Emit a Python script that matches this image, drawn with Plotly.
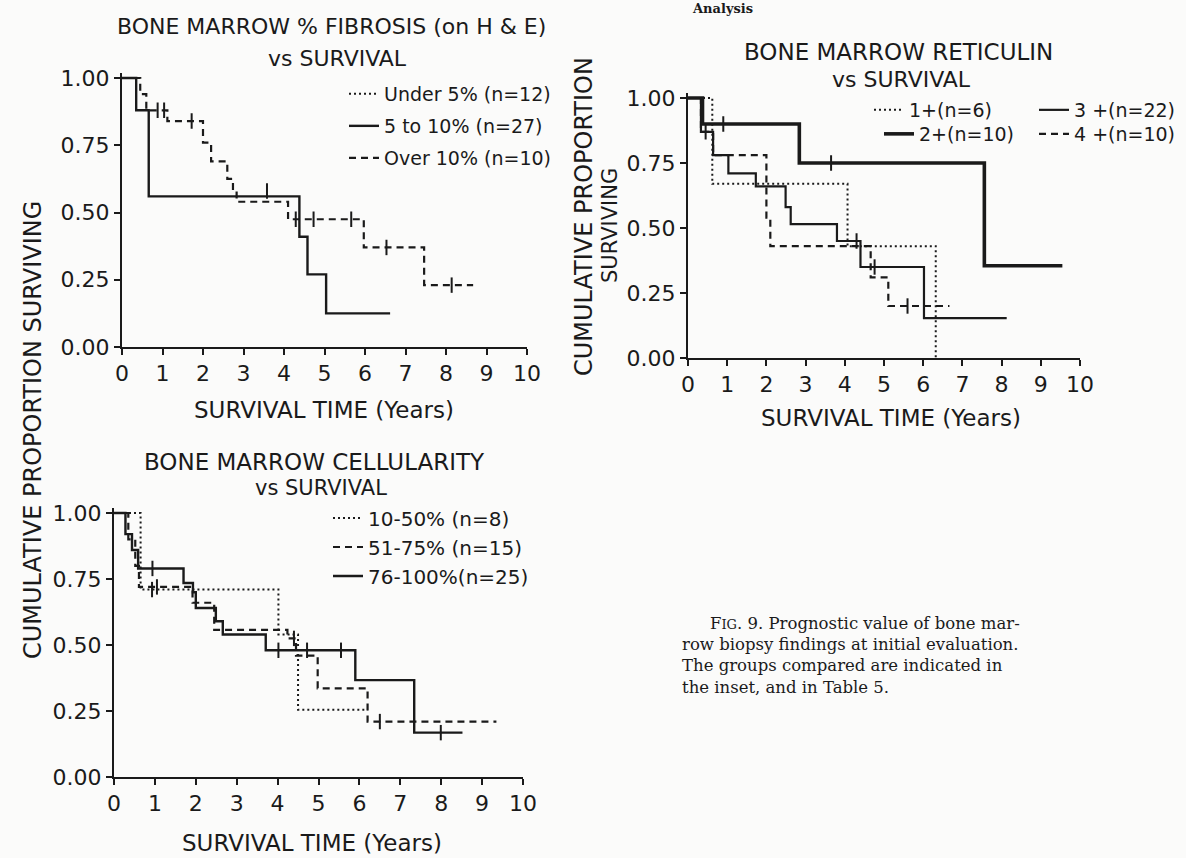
import plotly.graph_objects as go

W, H = 1186, 858
SANS = "DejaVu Sans"
SERIF = "DejaVu Serif"
INK = "#1a1a1a"

# ---------------- data (years, cumulative proportion surviving) ----------------
# Panel 1: bone marrow % fibrosis
fib_u5_t = [0.0, 0.45]
fib_u5_s = [1.0, 1.0]
fib_u5_ct = [3.58]
fib_u5_cs = [0.58]

fib_5to10_t = [0.0, 0.35, 0.66, 4.38, 4.58, 5.04, 6.62]
fib_5to10_s = [1.0, 0.88, 0.56, 0.41, 0.27, 0.125, 0.125]

fib_o10_t = [0.0, 0.45, 0.60, 1.12, 2.00, 2.20, 2.60, 2.74, 2.83, 4.10, 5.97, 7.46, 8.67]
fib_o10_s = [1.0, 0.94, 0.88, 0.84, 0.76, 0.69, 0.625, 0.58, 0.54, 0.475, 0.37, 0.23, 0.23]
fib_o10_ct = [0.88, 1.04, 1.72, 4.29, 4.73, 5.66, 6.53, 8.14]
fib_o10_cs = [0.88, 0.88, 0.84, 0.475, 0.475, 0.475, 0.37, 0.23]

# Panel 2: bone marrow reticulin
ret1_t = [0.0, 0.62, 4.07, 6.32]
ret1_s = [1.0, 0.67, 0.43, 0.0]

ret2_t = [0.0, 0.37, 2.84, 7.56, 9.55]
ret2_s = [1.0, 0.90, 0.75, 0.355, 0.355]
ret2_ct = [0.90, 3.65]
ret2_cs = [0.90, 0.75]

ret3_t = [0.0, 0.33, 0.64, 1.03, 1.73, 2.49, 2.62, 3.80, 4.40, 6.02, 8.13]
ret3_s = [1.0, 0.87, 0.78, 0.71, 0.66, 0.58, 0.515, 0.45, 0.35, 0.153, 0.153]
ret3_ct = [4.30, 4.76]
ret3_cs = [0.45, 0.35]

ret4_t = [0.0, 0.33, 0.64, 2.00, 2.10, 4.66, 5.11, 6.67]
ret4_s = [1.0, 0.87, 0.78, 0.54, 0.43, 0.31, 0.20, 0.20]
ret4_ct = [0.45, 5.60]
ret4_cs = [0.87, 0.20]

# Panel 3: bone marrow cellularity
cel1_t = [0.0, 0.65, 4.02, 4.50, 6.20]
cel1_s = [1.0, 0.71, 0.54, 0.255, 0.255]
cel1_ct = [0.93]
cel1_cs = [0.71]

cel2_t = [0.0, 0.35, 0.52, 0.61, 1.92, 2.45, 4.24, 4.45, 4.98, 6.20, 9.35]
cel2_s = [1.0, 0.90, 0.80, 0.72, 0.66, 0.557, 0.525, 0.46, 0.336, 0.21, 0.21]
cel2_ct = [1.05, 4.40, 6.50]
cel2_cs = [0.72, 0.525, 0.21]

cel3_t = [0.0, 0.28, 0.44, 0.59, 1.70, 1.93, 2.00, 2.49, 2.66, 3.71, 5.90, 7.34, 8.52]
cel3_s = [1.0, 0.92, 0.86, 0.79, 0.735, 0.70, 0.64, 0.59, 0.54, 0.48, 0.367, 0.168, 0.168]
cel3_ct = [0.94, 4.02, 4.72, 5.55, 7.99]
cel3_cs = [0.79, 0.48, 0.48, 0.48, 0.168]

x_ticks = list(range(0, 11))
y_ticks = [0.0, 0.25, 0.5, 0.75, 1.0]

# ---------------- layout geometry (pixels) ----------------
YTOP = 1.02
panels = [
    dict(x0=122, x10=527, y0=347, y1=78),   # fibrosis
    dict(x0=688, x10=1080, y0=358, y1=98),  # reticulin
    dict(x0=114, x10=523, y0=777, y1=513),  # cellularity
]

fig = go.Figure()

def add_series(t, s, name, panel, dash, width, legend_id, ct=None, cs=None):
    xa = "x" if panel == 0 else f"x{panel + 1}"
    ya = "y" if panel == 0 else f"y{panel + 1}"
    fig.add_trace(go.Scatter(
        x=t, y=s, mode="lines", name=name, xaxis=xa, yaxis=ya,
        line=dict(color=INK, width=width, dash=dash, shape="hv"),
        legend=legend_id, showlegend=True, hoverinfo="skip"))
    if ct:
        fig.add_trace(go.Scatter(
            x=ct, y=cs, mode="markers", xaxis=xa, yaxis=ya, showlegend=False,
            marker=dict(symbol="line-ns", size=11, color=INK,
                        line=dict(width=2, color=INK)), hoverinfo="skip"))

DASH = "7px,5px"
DOT = "2px,3px"

add_series(fib_u5_t, fib_u5_s, "Under 5% (n=12)", 0, DOT, 2, "legend", fib_u5_ct, fib_u5_cs)
add_series(fib_5to10_t, fib_5to10_s, "5 to 10% (n=27)", 0, "solid", 2.4, "legend2")
add_series(fib_o10_t, fib_o10_s, "Over 10% (n=10)", 0, DASH, 2.2, "legend3", fib_o10_ct, fib_o10_cs)

add_series(ret1_t, ret1_s, "1+(n=6)", 1, DOT, 2, "legend4")
add_series(ret2_t, ret2_s, "2+(n=10)", 1, "solid", 3.6, "legend5", ret2_ct, ret2_cs)
add_series(ret3_t, ret3_s, "3 +(n=22)", 1, "solid", 2.2, "legend6", ret3_ct, ret3_cs)
add_series(ret4_t, ret4_s, "4 +(n=10)", 1, DASH, 2.2, "legend7", ret4_ct, ret4_cs)

add_series(cel1_t, cel1_s, "10-50% (n=8)", 2, DOT, 2, "legend8", cel1_ct, cel1_cs)
add_series(cel2_t, cel2_s, "51-75% (n=15)", 2, DASH, 2.2, "legend9", cel2_ct, cel2_cs)
add_series(cel3_t, cel3_s, "76-100%(n=25)", 2, "solid", 2.4, "legend10", cel3_ct, cel3_cs)

# axes
axis_common = dict(showline=True, linecolor=INK, linewidth=2, ticks="outside",
                   ticklen=6, tickwidth=2, tickcolor=INK, showgrid=False,
                   zeroline=False, fixedrange=True,
                   tickfont=dict(family=SANS, size=22, color=INK))
for i, g in enumerate(panels):
    sfx = "" if i == 0 else str(i + 1)
    top_px = g["y0"] - YTOP * (g["y0"] - g["y1"])
    fig.layout["xaxis" + sfx] = dict(
        axis_common, domain=[g["x0"] / W, g["x10"] / W], range=[0, 10],
        anchor="y" + sfx, tickvals=x_ticks)
    fig.layout["yaxis" + sfx] = dict(
        axis_common, domain=[1 - g["y0"] / H, 1 - top_px / H], range=[0, YTOP],
        anchor="x" + sfx, tickvals=y_ticks, tickformat=".2f")

# legends: one per entry, positioned by text start (px) and row centre (px)
legend_pos = {
    "legend": (384, 94, 19), "legend2": (384, 126, 19), "legend3": (384, 158, 19),
    "legend4": (909, 110, 19), "legend5": (919, 134, 19),
    "legend6": (1074, 110, 19), "legend7": (1074, 134, 19),
    "legend8": (368, 518, 20), "legend9": (368, 547, 20), "legend10": (368, 576, 20),
}
for lid, (tx, ty, fs) in legend_pos.items():
    fig.layout[lid] = dict(x=(tx - 40) / W, y=1 - ty / H, xanchor="left",
                           yanchor="middle", bgcolor="rgba(0,0,0,0)",
                           borderwidth=0, font=dict(family=SANS, size=fs, color=INK))

def ann(text, x, y, size, family=SANS, angle=0, xanchor="center"):
    fig.add_annotation(text=text, x=x / W, y=1 - y / H, xref="paper", yref="paper",
                       showarrow=False, textangle=angle, xanchor=xanchor, yanchor="middle",
                       font=dict(family=family, size=size, color=INK))

# titles
ann("BONE MARROW % FIBROSIS (on H & E)", 332, 27, 22)
ann("vs SURVIVAL", 337, 58, 22)
ann("BONE MARROW RETICULIN", 898, 52, 23)
ann("vs SURVIVAL", 901, 79, 22)
ann("BONE MARROW CELLULARITY", 314, 462, 23)
ann("vs SURVIVAL", 321, 488, 21)

# axis titles
ann("SURVIVAL TIME (Years)", 324, 410, 23)
ann("SURVIVAL TIME (Years)", 891, 418, 23)
ann("SURVIVAL TIME (Years)", 312, 843, 23)
ann("CUMULATIVE PROPORTION SURVIVING", 33, 430, 24, angle=-90)
ann("CUMULATIVE PROPORTION", 584, 217, 24, angle=-90)
ann("SURVIVING", 610, 226, 21, angle=-90)

# caption
ann("F<span style='font-size:13px'>IG</span>. 9. Prognostic value of bone mar-", 708, 623, 16.5, SERIF, xanchor="left")
ann("row biopsy findings at initial evaluation.", 680, 644, 16.5, SERIF, xanchor="left")
ann("The groups compared are indicated in", 680, 665, 16.5, SERIF, xanchor="left")
ann("the inset, and in Table 5.", 680, 687, 16.5, SERIF, xanchor="left")

# running header at the top edge
ann("<b>Analysis</b>", 722, 8, 13, SERIF)

fig.update_layout(width=W, height=H, margin=dict(l=0, r=0, t=0, b=0, autoexpand=False),
                  paper_bgcolor="#fbfbfa", plot_bgcolor="rgba(0,0,0,0)",
                  showlegend=True)

fig.write_html("out.html")
